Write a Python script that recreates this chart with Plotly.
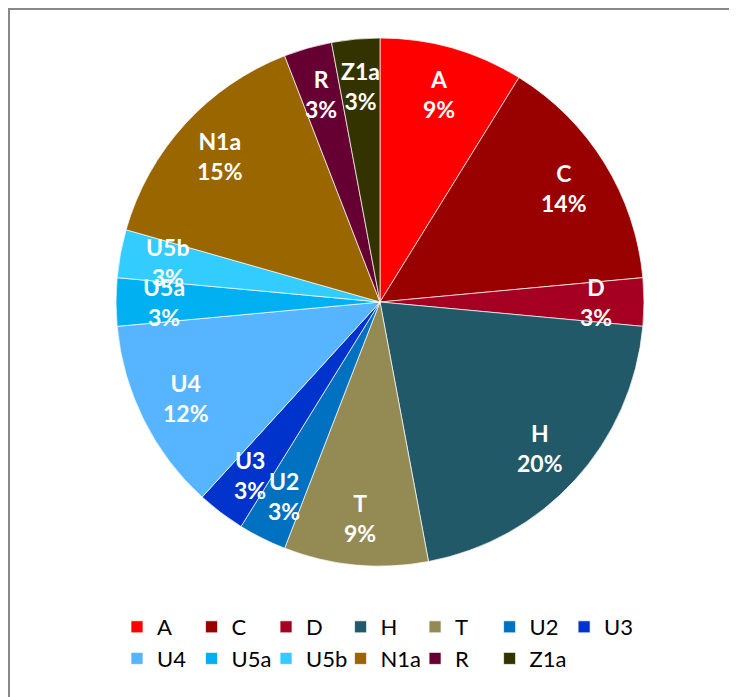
import math
import plotly.graph_objects as go

# haplogrupos e contagens (n = 34)
grupos = ["A", "C", "D", "H", "T", "U2", "U3", "U4", "U5a", "U5b", "N1a", "R", "Z1a"]
contagens = [3, 5, 1, 7, 3, 1, 1, 4, 1, 1, 5, 1, 1]
pct_rotulo = [9, 14, 3, 20, 9, 3, 3, 12, 3, 3, 15, 3, 3]
cores = ["#FF0000", "#990000", "#A50021", "#215968", "#948A54", "#0070C0", "#0033CC",
         "#57B5FF", "#00B0F0", "#33CCFF", "#996600", "#660033", "#333300"]

W, H = 737, 697
OFF = 8  # margem padrão do <body> na página
ML, MT = 107, 30
PW, PH = 530, 528
MR, MB = W - ML - PW, H - MT - PH
RAIO = min(PW, PH) / 2

fig = go.Figure(go.Pie(
    labels=grupos, values=contagens, sort=False, direction="clockwise",
    marker=dict(colors=cores, line=dict(color="white", width=0.7)),
    textinfo="none", hoverinfo="label+percent",
    domain=dict(x=[0, 1], y=[0, 1]),
))

# rótulos dentro das fatias, no ângulo médio de cada uma
total = sum(contagens)
acum = 0
anot = []
for g, c, p in zip(grupos, contagens, pct_rotulo):
    meio = (acum + c / 2) / total * 2 * math.pi
    acum += c
    r = 0.82 * RAIO
    anot.append(dict(
        text=f"{g}<br>{p}%", showarrow=False, xref="paper", yref="paper",
        x=0.5 + r * math.sin(meio) / PW, y=0.5 + r * math.cos(meio) / PH,
        xanchor="center", yanchor="middle",
        font=dict(family="Lato", size=23, color="white", weight="bold"),
        align="center",
    ))


def px_x(v):
    return (v - OFF - ML) / PW


def px_y(v):
    return 1 - (v - OFF - MT) / PH


fig.update_layout(
    width=W, height=H,
    margin=dict(l=ML, r=MR, t=MT, b=MB, autoexpand=False),
    paper_bgcolor="white", plot_bgcolor="white",
    showlegend=True,
    legend=dict(orientation="h", x=px_x(117), xanchor="left", y=px_y(606), yanchor="top",
                entrywidth=0.1406, entrywidthmode="fraction",
                font=dict(family="Lato", size=22, color="black")),
    annotations=anot,
    shapes=[dict(type="rect", xref="paper", yref="paper",
                 x0=px_x(9), x1=px_x(760), y0=px_y(9), y1=px_y(720),
                 line=dict(color="#888888", width=2), fillcolor="rgba(0,0,0,0)")],
)

fig.write_html("out.html")
